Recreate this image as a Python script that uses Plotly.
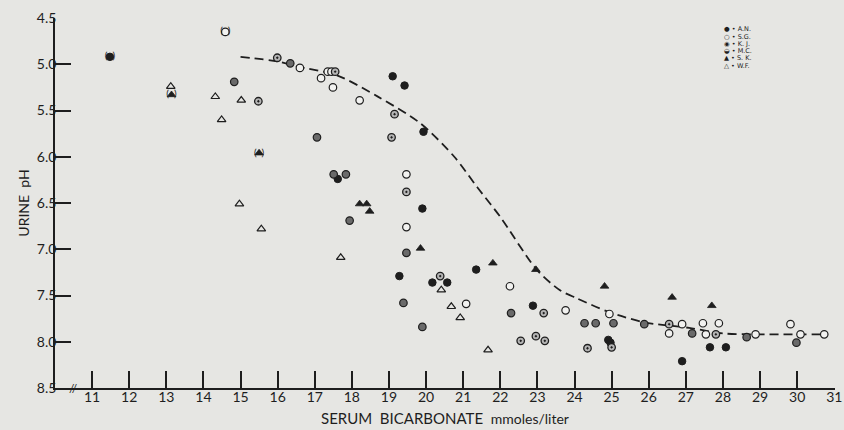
import plotly.graph_objects as go

# ---------------- data ----------------
an_x = [11.48, 19.10, 19.42, 19.93, 19.90, 19.28, 20.17, 20.57, 21.35, 22.88, 24.91, 24.97, 26.90, 27.65, 28.08, 17.62]
an_y = [4.92, 5.13, 5.23, 5.73, 6.56, 7.29, 7.36, 7.36, 7.22, 7.61, 7.98, 8.01, 8.21, 8.06, 8.06, 6.24]

sg_x = [14.59, 16.60, 17.17, 17.35, 17.45, 17.49, 18.21, 19.47, 19.47, 21.08, 22.26, 23.76, 24.94, 26.55, 26.90,
        27.46, 27.54, 27.89, 28.88, 29.82, 30.09, 30.73]
sg_y = [4.65, 5.04, 5.15, 5.08, 5.08, 5.25, 5.39, 6.19, 6.76, 7.59, 7.40, 7.66, 7.70, 7.91, 7.81,
        7.80, 7.92, 7.80, 7.92, 7.81, 7.92, 7.92]

kj_x = [14.83, 16.34, 17.06, 17.51, 17.84, 17.94, 19.47, 19.39, 19.90, 22.29, 24.27, 24.57, 25.05, 25.88, 27.17, 28.64, 29.98]
kj_y = [5.19, 4.99, 5.79, 6.19, 6.19, 6.69, 7.04, 7.58, 7.84, 7.69, 7.80, 7.80, 7.80, 7.81, 7.91, 7.95, 8.01]

mc_x = [15.48, 15.99, 17.55, 19.15, 19.07, 19.47, 20.38, 23.17, 22.55, 22.96, 23.20, 24.35, 25.00, 26.55, 27.81]
mc_y = [5.40, 4.93, 5.08, 5.54, 5.79, 6.38, 7.29, 7.69, 7.99, 7.94, 7.99, 8.07, 8.06, 7.81, 7.92]

sk_x = [13.14, 15.50, 18.21, 18.40, 18.48, 19.85, 21.80, 22.96, 24.81, 26.63, 27.70]
sk_y = [5.33, 5.96, 6.51, 6.51, 6.59, 6.99, 7.15, 7.22, 7.40, 7.52, 7.61]

wf_x = [13.12, 14.32, 15.02, 14.49, 14.97, 15.56, 17.70, 20.41, 20.68, 20.92, 21.67]
wf_y = [5.24, 5.35, 5.39, 5.60, 6.51, 6.78, 7.09, 7.44, 7.62, 7.74, 8.09]

# points shown in parentheses
paren_x = [11.48, 14.59, 13.14, 15.50]
paren_y = [4.92, 4.65, 5.33, 5.96]

# dashed trend curve
curve_x = [15.0, 16.0, 16.6, 17.6, 18.7, 19.85, 20.76, 21.38, 22.0, 22.98, 23.6, 24.06, 24.94, 25.88, 27.09, 28.0, 28.88, 30.73]
curve_y = [4.92, 4.97, 5.03, 5.12, 5.35, 5.64, 6.00, 6.33, 6.65, 7.22, 7.44, 7.53, 7.68, 7.79, 7.85, 7.91, 7.92, 7.92]

x_ticks = list(range(11, 32))
y_ticks = [4.5, 5.0, 5.5, 6.0, 6.5, 7.0, 7.5, 8.0, 8.5]
y_tick_text = ["4.5", "5.0", "5.5", "6.0", "6.5", "7.0", "7.5", "8.0", "8.5"]

legend_labels = ["\u25CF \u2022 A.N.", "\u25CB \u2022 S.G.", "\u25C9 \u2022 K. J.",
                 "\u25D2 \u2022 M.C.", "\u25B2 \u2022 S. K.", "\u25B3 \u2022 W.F."]

# ---------------- figure ----------------
INK = "#1e1e1e"
BG = "#e6e6e3"
FONT = "Lato"

fig = go.Figure()

fig.add_trace(go.Scatter(x=curve_x, y=curve_y, mode="lines",
                         line=dict(color=INK, width=1.8, dash="9px,5px", shape="spline", smoothing=0.8),
                         hoverinfo="skip"))

mk = 7.5
fig.add_trace(go.Scatter(x=an_x, y=an_y, mode="markers", name="A.N.",
                         marker=dict(symbol="circle", size=mk, color=INK, line=dict(color=INK, width=1))))
fig.add_trace(go.Scatter(x=sg_x, y=sg_y, mode="markers", name="S.G.",
                         marker=dict(symbol="circle", size=mk, color="#f2f2f0", line=dict(color=INK, width=1.2))))
fig.add_trace(go.Scatter(x=kj_x, y=kj_y, mode="markers", name="K.J.",
                         marker=dict(symbol="circle", size=mk, color="#6a6a6a", line=dict(color=INK, width=1.2))))
fig.add_trace(go.Scatter(x=mc_x, y=mc_y, mode="markers", name="M.C.",
                         marker=dict(symbol="circle-dot", size=mk, color="#b5b5b5", line=dict(color=INK, width=1.3))))
fig.add_trace(go.Scatter(x=sk_x, y=sk_y, mode="markers", name="S.K.",
                         marker=dict(symbol="triangle-up", size=mk, color=INK, line=dict(color=INK, width=0.8))))
fig.add_trace(go.Scatter(x=wf_x, y=wf_y, mode="markers", name="W.F.",
                         marker=dict(symbol="triangle-up-open", size=mk, color=INK, line=dict(width=1.2))))
fig.add_trace(go.Scatter(x=paren_x, y=paren_y, mode="text", text=["(\u2009\u2009\u2009\u2009)"] * len(paren_x),
                         textfont=dict(family=FONT, size=10, color=INK), hoverinfo="skip"))

L, R, T, B = 55, 9, 18, 42
W, H = 844, 430
pw, ph = W - L - R, H - T - B

annotations = []
legend_rows_px = [29, 36.5, 44, 51, 58, 65.5]
for lab, py in zip(legend_labels, legend_rows_px):
    annotations.append(dict(xref="paper", yref="paper", x=(722 - L) / pw, y=(H - B - py) / ph,
                            text=lab, showarrow=False, xanchor="left", yanchor="middle",
                            font=dict(family="DejaVu Sans", size=6.5, color=INK)))
# axis break mark
annotations.append(dict(xref="paper", yref="paper", x=(73 - L) / pw, y=0,
                        text="//", showarrow=False, xanchor="center", yanchor="middle",
                        font=dict(family=FONT, size=12, color=INK)))

fig.update_layout(
    width=W, height=H,
    margin=dict(l=L, r=R, t=T, b=B, pad=0),
    paper_bgcolor=BG, plot_bgcolor=BG,
    showlegend=False,
    font=dict(family=FONT, color=INK, size=14),
    annotations=annotations,
)
fig.update_xaxes(range=[10, 31.02], tickvals=x_ticks, ticktext=[str(v) for v in x_ticks],
                 automargin=False,
                 showgrid=False, zeroline=False, showline=True, linecolor=INK, linewidth=1.6,
                 ticks="inside", ticklen=17, tickwidth=1.5, tickcolor=INK, ticklabelstandoff=-5,
                 ticklabeloverflow="allow",
                 tickfont=dict(size=14, family=FONT, color=INK),
                 title=dict(text="SERUM  BICARBONATE  <span style='font-size:14px'>mmoles/liter</span>",
                            font=dict(size=15, family=FONT, color=INK), standoff=10))
fig.update_yaxes(range=[8.5, 4.5], tickvals=y_ticks, ticktext=y_tick_text,
                 automargin=False,
                 showgrid=False, zeroline=False, showline=True, linecolor=INK, linewidth=1.6,
                 ticks="inside", ticklen=16, tickwidth=1.5, tickcolor=INK, ticklabelstandoff=-6,
                 tickfont=dict(size=14, family=FONT, color=INK),
                 title=dict(text="URINE  pH", font=dict(size=14, family=FONT, color=INK), standoff=4))

fig.write_html("out.html", config={"displayModeBar": False},
               post_script="document.body.style.margin='0';document.body.style.background='" + BG + "';")
